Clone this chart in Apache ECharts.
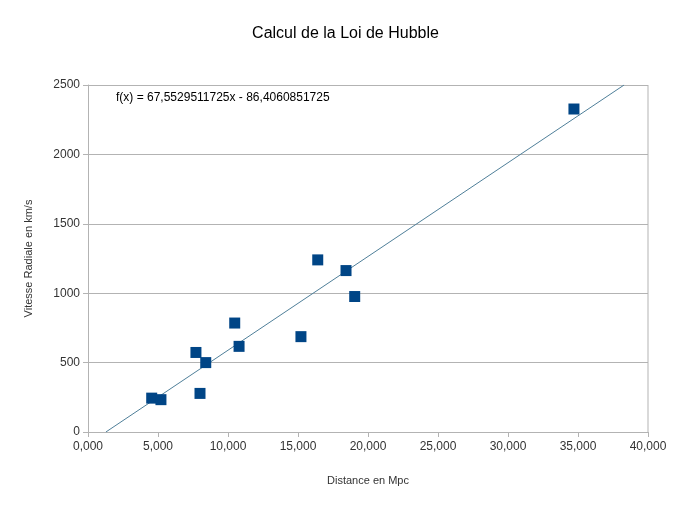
<!DOCTYPE html>
<html>
<head>
<meta charset="utf-8">
<script src="https://cdn.jsdelivr.net/npm/echarts@6/dist/echarts.min.js"></script>
<style>
  html, body { margin: 0; padding: 0; background: #fff; }
  #hubble { width: 691px; height: 509px; }
</style>
</head>
<body>
<div id="hubble"></div>
<script>
// distances (Mpc) and radial velocities (km/s)
var distances = [4.55, 5.21, 8.0, 7.71, 8.41, 10.48, 10.79, 15.21, 16.41, 18.43, 19.05, 34.71];
var velocities = [244, 233, 278, 573, 500, 785, 617, 687, 1240, 1163, 976, 2327];
// trend line ends, where it leaves the plot
var trendX = [1.279, 38.29];
var trendY = [0, 2500];
var equation = 'f(x) = 67,5529511725x - 86,4060851725';

var chart = echarts.init(document.getElementById('hubble'));

var points = [];
for (var i = 0; i < distances.length; i++) {
    points.push([distances[i], velocities[i]]);
}
var trend = [[trendX[0], trendY[0]], [trendX[1], trendY[1]]];

var font = 'Liberation Sans, Arial, sans-serif';

var option = {
    animation: false,
    backgroundColor: '#fff',
    title: {
        text: 'Calcul de la Loi de Hubble',
        left: 'center',
        top: 21,
        textStyle: { fontFamily: font, fontSize: 16, fontWeight: 'normal', color: '#000' }
    },
    graphic: [{
        type: 'text',
        left: 116,
        top: 92,
        style: { text: equation, fontFamily: font, fontSize: 12, fill: '#000' }
    }],
    grid: { left: 88, right: 43, top: 85, bottom: 77 },
    xAxis: {
        type: 'value',
        min: 0,
        max: 40,
        interval: 5,
        name: 'Distance en Mpc',
        nameLocation: 'middle',
        nameGap: 43,
        nameTextStyle: { fontFamily: font, fontSize: 11, color: '#333' },
        axisLine: { show: true, lineStyle: { color: '#b3b3b3' } },
        axisTick: { show: true, length: 5, lineStyle: { color: '#b3b3b3' } },
        axisLabel: {
            fontFamily: font, fontSize: 12, color: '#333', margin: 9,
            formatter: function (v) { return v.toFixed(3).replace('.', ','); }
        },
        splitLine: { show: false }
    },
    yAxis: {
        type: 'value',
        min: 0,
        max: 2500,
        interval: 500,
        name: 'Vitesse Radiale en km/s',
        nameLocation: 'middle',
        nameGap: 54,
        nameTextStyle: { fontFamily: font, fontSize: 11, color: '#333' },
        axisLine: { show: true, lineStyle: { color: '#b3b3b3' } },
        axisTick: { show: true, length: 5, lineStyle: { color: '#b3b3b3' } },
        axisLabel: {
            fontFamily: font, fontSize: 12, color: '#333', margin: 8,
            formatter: function (v) { return String(v); }
        },
        splitLine: { show: true, lineStyle: { color: '#b3b3b3', width: 1 } }
    },
    series: [{
        name: 'border',
        type: 'line',
        data: [[40, 0], [40, 2500]],
        symbol: 'none',
        silent: true,
        lineStyle: { color: '#b3b3b3', width: 1 }
    }, {
        name: 'trend',
        type: 'line',
        data: trend,
        symbol: 'none',
        lineStyle: { color: '#4f7f99', width: 1 },
        z: 3
    }, {
        name: 'mesures',
        type: 'scatter',
        data: points,
        symbol: 'rect',
        symbolSize: 11,
        itemStyle: { color: '#004586', opacity: 1 },
        z: 4
    }]
};

chart.setOption(option);
</script>
</body>
</html>
